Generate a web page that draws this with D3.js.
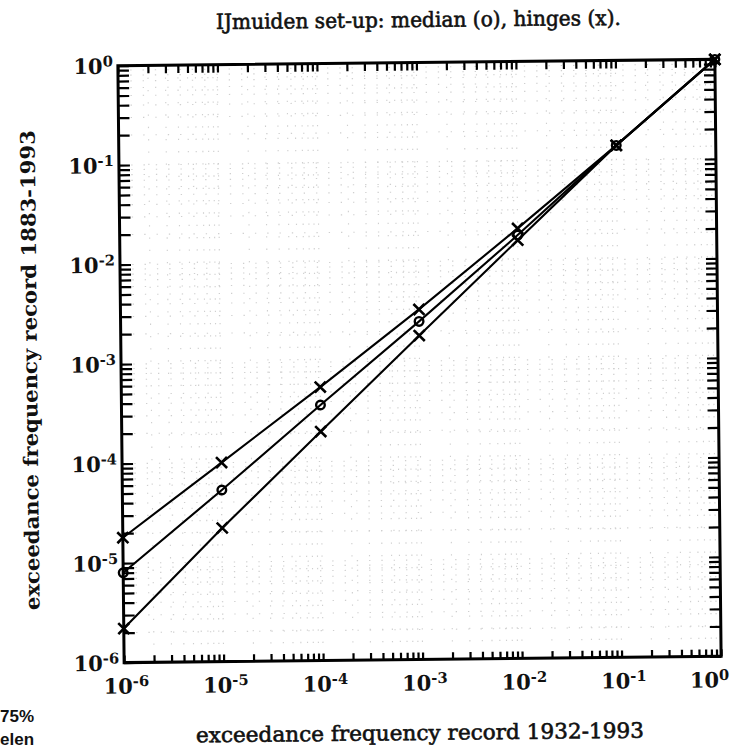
<!DOCTYPE html>
<html><head><meta charset="utf-8">
<script src="https://cdn.jsdelivr.net/npm/d3@7"></script>
<style>body{margin:0;background:#fff}</style>
</head><body>
<script>
// Exceedance frequencies, short record (x) vs long record (y)
const xValues    = [1e-6, 1e-5, 1e-4, 1e-3, 1e-2, 1e-1, 1];
const upperHinge = [1.8e-5, 1.0e-4, 5.6e-4, 3.3e-3, 2.1e-2, 0.14, 1];
const median     = [8.0e-6, 5.3e-5, 3.7e-4, 2.5e-3, 1.8e-2, 0.14, 1];
const lowerHinge = [2.2e-6, 2.2e-5, 2.0e-4, 1.8e-3, 1.6e-2, 0.14, 1];
const decadeExponents = [-6, -5, -4, -3, -2, -1, 0];

const titleText = "IJmuiden set-up: median (o), hinges (x).";
const xLabelText = "exceedance frequency record 1932-1993";
const yLabelText = "exceedance frequency record 1883-1993";

const W = 733, H = 751;
const plotL = 121, plotR = 718, plotT = 62.5, plotB = 659.5;

const svg = d3.select("body").append("svg")
  .attr("width", W).attr("height", H)
  .style("background", "#fff");

// whole sheet sits slightly askew on the page
const g = svg.append("g")
  .attr("transform", `rotate(-0.6, ${(plotL + plotR) / 2}, ${(plotT + plotB) / 2})`);

const x = d3.scaleLog().domain([1e-6, 1]).range([plotL, plotR]);
const y = d3.scaleLog().domain([1e-6, 1]).range([plotB, plotT]);

// all log ticks: 1..9 times each decade, plus 1
const logTicks = [];
decadeExponents.slice(0, -1).forEach(e => {
  for (let k = 1; k <= 9; k++) logTicks.push(k * Math.pow(10, e));
});
logTicks.push(1);

// faint dotted grid
const grid = g.append("g").attr("stroke", "#888").attr("stroke-width", 1.1)
  .attr("stroke-dasharray", "1.3,11").attr("opacity", 0.4);
logTicks.forEach(v => {
  grid.append("line").attr("x1", x(v)).attr("x2", x(v)).attr("y1", plotT).attr("y2", plotB);
  grid.append("line").attr("y1", y(v)).attr("y2", y(v)).attr("x1", plotL).attr("x2", plotR);
});

// inward ticks on all four sides
const tickStyle = sel => {
  sel.select(".domain").remove();
  sel.selectAll(".tick line").attr("stroke", "#000").attr("stroke-width", 2.2);
};
g.append("g").attr("transform", `translate(0,${plotB})`)
  .call(d3.axisBottom(x).tickValues(logTicks).tickSize(-7).tickFormat("")).call(tickStyle);
g.append("g").attr("transform", `translate(0,${plotT})`)
  .call(d3.axisTop(x).tickValues(logTicks).tickSize(-8).tickFormat("")).call(tickStyle);
g.append("g").attr("transform", `translate(${plotL},0)`)
  .call(d3.axisLeft(y).tickValues(logTicks).tickSize(-11).tickFormat("")).call(tickStyle);
g.append("g").attr("transform", `translate(${plotR},0)`)
  .call(d3.axisRight(y).tickValues(logTicks).tickSize(-11).tickFormat("")).call(tickStyle);

// frame
g.append("rect").attr("x", plotL).attr("y", plotT)
  .attr("width", plotR - plotL).attr("height", plotB - plotT)
  .attr("fill", "none").attr("stroke", "#000").attr("stroke-width", 3);

// decade labels with superscript exponents
const font = "'DejaVu Serif', serif";
function powerLabel(sel, e) {
  sel.append("tspan").text("10");
  sel.append("tspan").attr("dy", "-0.5em").attr("font-size", "0.7em").text(e === 0 ? "0" : "-" + Math.abs(e));
}
decadeExponents.forEach(e => {
  const v = Math.pow(10, e);
  const last = e === 0;
  g.append("text").attr("x", last ? x(v) + 8 : x(v) + 2).attr("y", plotB + 31)
    .attr("text-anchor", last ? "end" : "middle").attr("font-family", font).attr("font-weight", "bold")
    .attr("font-size", 21).attr("fill", "#111")
    .call(powerLabel, e);
  g.append("text").attr("x", plotL - 5).attr("y", y(v) + 8)
    .attr("text-anchor", "end").attr("font-family", font).attr("font-weight", "bold")
    .attr("font-size", 21).attr("fill", "#111")
    .call(powerLabel, e);
});

// series lines
const line = d3.line().x((d, i) => x(xValues[i])).y(d => y(d));
[upperHinge, median, lowerHinge].forEach(s => {
  g.append("path").attr("d", line(s)).attr("fill", "none")
    .attr("stroke", "#000").attr("stroke-width", 2.1);
});

// markers: crosses for hinges, circles for the median
[upperHinge, lowerHinge].forEach(s => {
  g.append("g").selectAll("path").data(s).join("path")
    .attr("transform", (d, i) => `translate(${x(xValues[i])},${y(d)})`)
    .attr("d", "M-5.5,-5.5L5.5,5.5M-5.5,5.5L5.5,-5.5")
    .attr("stroke", "#000").attr("stroke-width", 2.6).attr("fill", "none");
});
g.append("g").selectAll("circle").data(median).join("circle")
  .attr("cx", (d, i) => x(xValues[i])).attr("cy", d => y(d)).attr("r", 4.3)
  .attr("fill", "none").attr("stroke", "#000").attr("stroke-width", 2.4);

// titles
g.append("text").attr("x", 422).attr("y", 27).attr("text-anchor", "middle")
  .attr("font-family", font).attr("font-size", 21).attr("fill", "#111")
  .attr("stroke", "#111").attr("stroke-width", 0.6)
  .attr("textLength", 405).attr("lengthAdjust", "spacingAndGlyphs")
  .text(titleText);
g.append("text").attr("x", 416).attr("y", 740).attr("text-anchor", "middle")
  .attr("font-family", font).attr("font-size", 21).attr("fill", "#111")
  .attr("stroke", "#111").attr("stroke-width", 0.6)
  .attr("textLength", 448).attr("lengthAdjust", "spacingAndGlyphs")
  .text(xLabelText);
g.append("text").attr("transform", "translate(37,366) rotate(-90)")
  .attr("text-anchor", "middle").attr("font-family", font).attr("font-weight", "bold")
  .attr("font-size", 20).attr("fill", "#111")
  .attr("textLength", 480).attr("lengthAdjust", "spacingAndGlyphs")
  .text(yLabelText);

// fragment of a neighbouring legend at the lower-left edge
svg.append("text").attr("x", 0).attr("y", 722)
  .attr("font-family", "'Liberation Sans', sans-serif").attr("font-weight", "bold")
  .attr("font-size", 17).attr("fill", "#111").text("75%");
svg.append("text").attr("x", 0).attr("y", 745)
  .attr("font-family", "'Liberation Sans', sans-serif").attr("font-weight", "bold")
  .attr("font-size", 17).attr("fill", "#111").text("elen");
</script>
</body></html>
